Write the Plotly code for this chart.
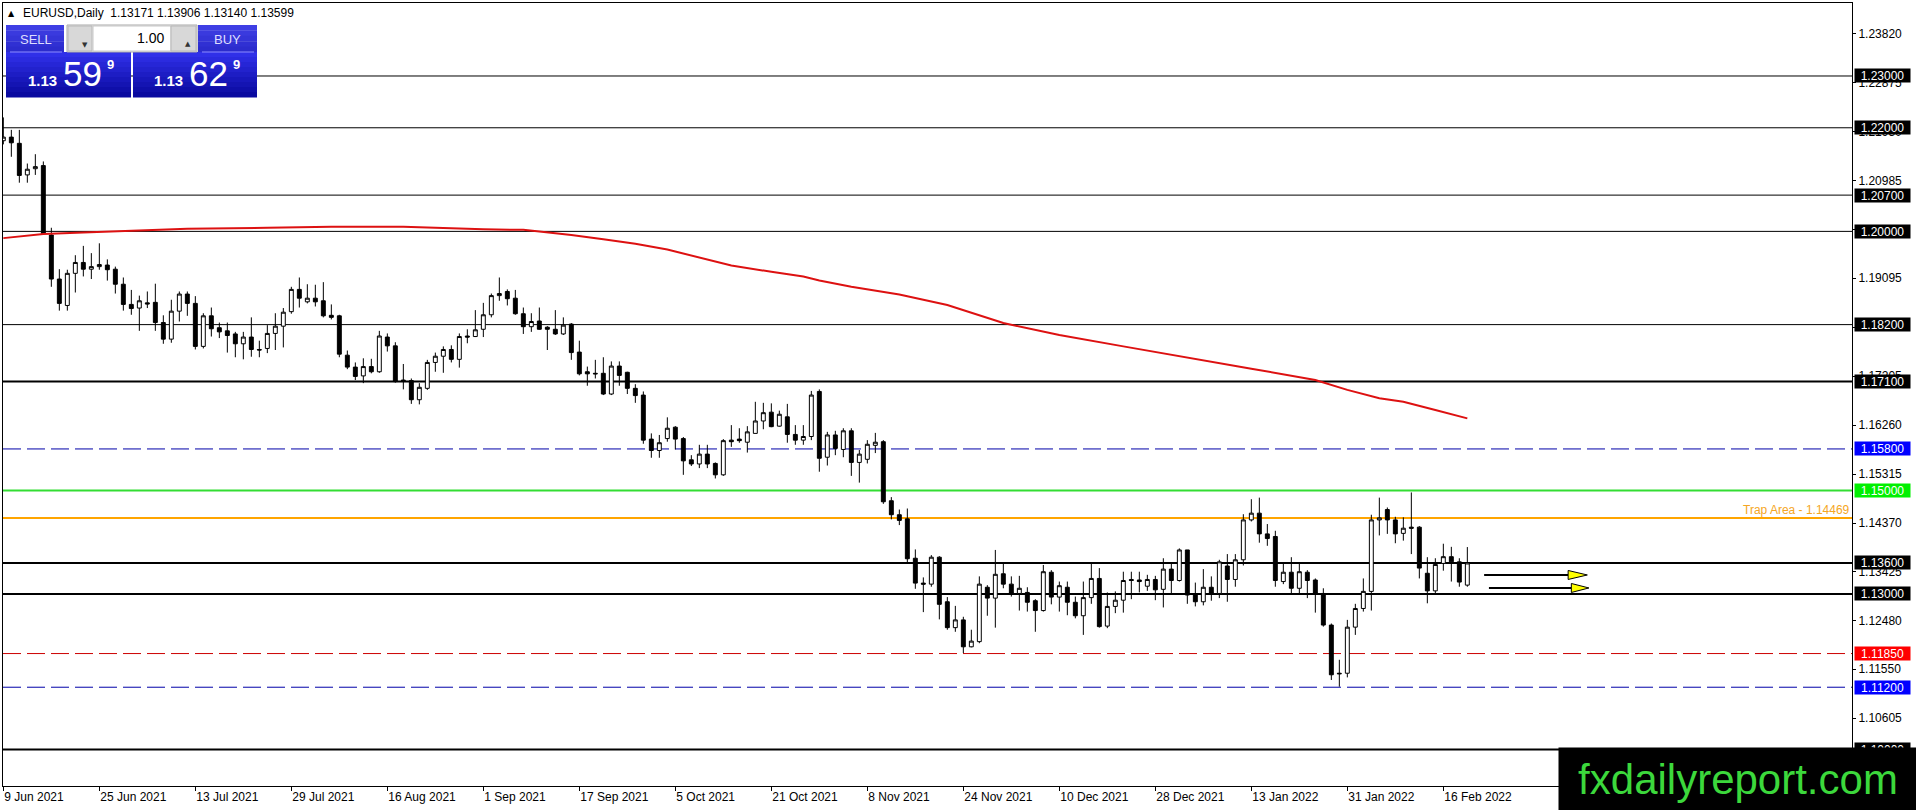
import plotly.graph_objects as go

symbol = "EURUSD"
timeframe = "Daily"

# daily bars, first visible bar is 9 Jun 2021
opens = [1.2175, 1.2182, 1.2170, 1.2109, 1.2121, 1.2127, 1.1993, 1.1908, 1.1857, 1.1919,
         1.1940, 1.1927, 1.1932, 1.1935, 1.1927, 1.1898, 1.1859, 1.1852, 1.1862, 1.1863,
         1.1824, 1.1792, 1.1846, 1.1879, 1.1861, 1.1778, 1.1837, 1.1814, 1.1808, 1.1802,
         1.1783, 1.1796, 1.1772, 1.1774, 1.1803, 1.1817, 1.1845, 1.1888, 1.1864, 1.1871,
         1.1866, 1.1838, 1.1837, 1.1761, 1.1738, 1.1721, 1.1739, 1.1729, 1.1796, 1.1779,
         1.1713, 1.1712, 1.1675, 1.1697, 1.1747, 1.1759, 1.1772, 1.1753, 1.1798, 1.1797,
         1.1811, 1.1839, 1.1876, 1.1884, 1.1871, 1.1841, 1.1816, 1.1827, 1.1815, 1.1811,
         1.1802, 1.1821, 1.1767, 1.1729, 1.1726, 1.1726, 1.1686, 1.1740, 1.1728, 1.1697,
         1.1684, 1.1599, 1.1577, 1.1600, 1.1622, 1.1600, 1.1559, 1.1551, 1.1570, 1.1552,
         1.1530, 1.1597, 1.1599, 1.1593, 1.1610, 1.1634, 1.1651, 1.1624, 1.1642, 1.1608,
         1.1597, 1.1604, 1.1691, 1.1564, 1.1607, 1.1579, 1.1615, 1.1554, 1.1560, 1.1587,
         1.1594, 1.1480, 1.1453, 1.1445, 1.1369, 1.1321, 1.1319, 1.1371, 1.1285, 1.1235,
         1.1250, 1.1198, 1.1208, 1.1313, 1.1292, 1.1339, 1.1319, 1.1301, 1.1303, 1.1287,
         1.1268, 1.1342, 1.1294, 1.1313, 1.1284, 1.1258, 1.1293, 1.1330, 1.1238, 1.1276,
         1.1288, 1.1328, 1.1327, 1.1315, 1.1328, 1.1309, 1.1348, 1.1326, 1.1385, 1.1300,
         1.1285, 1.1313, 1.1301, 1.1354, 1.1328, 1.1366, 1.1443, 1.1456, 1.1416, 1.1411,
         1.1324, 1.1342, 1.1311, 1.1342, 1.1327, 1.1301, 1.1240, 1.1147, 1.1147, 1.1236,
         1.1272, 1.1305, 1.1443, 1.1463, 1.1443, 1.1417, 1.1429, 1.1429, 1.1340, 1.1306,
         1.1359, 1.1372, 1.1362, 1.13171]
highs = [1.2220, 1.2196, 1.2196, 1.2131, 1.2149, 1.2135, 1.2007, 1.1927, 1.1926, 1.1954,
         1.1972, 1.1958, 1.1977, 1.1946, 1.1932, 1.1911, 1.1887, 1.1876, 1.1884, 1.1899,
         1.1838, 1.1868, 1.1884, 1.1884, 1.1875, 1.1842, 1.1853, 1.1824, 1.1824, 1.1806,
         1.1806, 1.1834, 1.1789, 1.1819, 1.1842, 1.1852, 1.1893, 1.1911, 1.1898, 1.1897,
         1.1902, 1.1859, 1.1839, 1.1770, 1.1747, 1.1755, 1.1754, 1.1808, 1.1803, 1.1786,
         1.1744, 1.1716, 1.1707, 1.1752, 1.1766, 1.1778, 1.1780, 1.1803, 1.1811, 1.1848,
         1.1862, 1.1880, 1.1911, 1.1888, 1.1887, 1.1853, 1.1842, 1.1853, 1.1817, 1.1848,
         1.1834, 1.1823, 1.1789, 1.1739, 1.1752, 1.1757, 1.1749, 1.1749, 1.1729, 1.1705,
         1.1691, 1.1610, 1.1607, 1.1641, 1.1624, 1.1603, 1.1568, 1.1588, 1.1588, 1.1554,
         1.1599, 1.1626, 1.1620, 1.1624, 1.1671, 1.1669, 1.1668, 1.1654, 1.1667, 1.1626,
         1.1626, 1.1692, 1.1695, 1.1613, 1.1615, 1.1620, 1.1620, 1.1578, 1.1597, 1.1611,
         1.1597, 1.1487, 1.1463, 1.1465, 1.1386, 1.1332, 1.1375, 1.1373, 1.1294, 1.1277,
         1.1256, 1.1231, 1.1334, 1.1317, 1.1385, 1.1361, 1.1334, 1.1335, 1.1313, 1.1290,
         1.1356, 1.1346, 1.1324, 1.1324, 1.1295, 1.1324, 1.1361, 1.1350, 1.1303, 1.1305,
         1.1343, 1.1343, 1.1343, 1.1337, 1.1335, 1.1369, 1.1359, 1.1388, 1.1385, 1.1322,
         1.1348, 1.1334, 1.1366, 1.1377, 1.1377, 1.1454, 1.1483, 1.1486, 1.1435, 1.1422,
         1.1358, 1.1371, 1.1361, 1.1346, 1.1330, 1.1311, 1.1243, 1.1173, 1.1250, 1.1281,
         1.1330, 1.1453, 1.1486, 1.1467, 1.1449, 1.1448, 1.1496, 1.1431, 1.1371, 1.1369,
         1.1397, 1.1391, 1.1369, 1.13906]
lows = [1.2168, 1.2144, 1.2094, 1.2094, 1.2109, 1.1995, 1.1893, 1.1847, 1.1847, 1.1882,
        1.1913, 1.1908, 1.1926, 1.1905, 1.1880, 1.1847, 1.1839, 1.1808, 1.1852, 1.1808,
        1.1783, 1.1785, 1.1826, 1.1837, 1.1772, 1.1774, 1.1797, 1.1794, 1.1766, 1.1757,
        1.1753, 1.1758, 1.1757, 1.1765, 1.1771, 1.1776, 1.1841, 1.1853, 1.1861, 1.1855,
        1.1834, 1.1830, 1.1757, 1.1734, 1.1713, 1.1707, 1.1726, 1.1727, 1.1768, 1.1708,
        1.1695, 1.1667, 1.1666, 1.1694, 1.1729, 1.1727, 1.1747, 1.1737, 1.1784, 1.1796,
        1.1796, 1.1834, 1.1866, 1.1857, 1.1839, 1.1802, 1.1806, 1.1810, 1.1771, 1.1800,
        1.1800, 1.1752, 1.1722, 1.1702, 1.1716, 1.1684, 1.1684, 1.1702, 1.1686, 1.1669,
        1.1590, 1.1563, 1.1563, 1.1594, 1.1579, 1.1530, 1.1547, 1.1543, 1.1543, 1.1523,
        1.1528, 1.1584, 1.1592, 1.1573, 1.1610, 1.1618, 1.1622, 1.1623, 1.1592, 1.1588,
        1.1588, 1.1597, 1.1536, 1.1548, 1.1568, 1.1564, 1.1528, 1.1515, 1.1552, 1.1572,
        1.1474, 1.1444, 1.1433, 1.1358, 1.1310, 1.1265, 1.1314, 1.1251, 1.1231, 1.1227,
        1.1186, 1.1197, 1.1205, 1.1258, 1.1235, 1.1311, 1.1295, 1.1268, 1.1266, 1.1227,
        1.1266, 1.1280, 1.1266, 1.1259, 1.1253, 1.1221, 1.1281, 1.1235, 1.1234, 1.1263,
        1.1264, 1.1290, 1.1303, 1.1306, 1.1288, 1.1274, 1.1301, 1.1324, 1.1281, 1.1276,
        1.1278, 1.1287, 1.1292, 1.1285, 1.1314, 1.1355, 1.1440, 1.1399, 1.1393, 1.1314,
        1.1319, 1.1301, 1.1300, 1.1292, 1.1264, 1.1237, 1.1134, 1.1121, 1.1139, 1.1221,
        1.1266, 1.1268, 1.1413, 1.1416, 1.1398, 1.1403, 1.1377, 1.1330, 1.1282, 1.1301,
        1.1345, 1.1324, 1.1314, 1.13140]
closes = [1.2182, 1.2171, 1.2108, 1.2120, 1.2125, 1.1996, 1.1908, 1.1861, 1.1919, 1.1940,
          1.1927, 1.1932, 1.1936, 1.1926, 1.1898, 1.1859, 1.1851, 1.1866, 1.1860, 1.1824,
          1.1792, 1.1846, 1.1879, 1.1861, 1.1778, 1.1837, 1.1812, 1.1806, 1.1799, 1.1783,
          1.1796, 1.1772, 1.1771, 1.1803, 1.1817, 1.1844, 1.1888, 1.1871, 1.1871, 1.1864,
          1.1837, 1.1834, 1.1763, 1.1738, 1.1720, 1.1739, 1.1729, 1.1798, 1.1779, 1.1710,
          1.1712, 1.1675, 1.1699, 1.1747, 1.1759, 1.1772, 1.1753, 1.1797, 1.1796, 1.1810,
          1.1839, 1.1876, 1.1880, 1.1870, 1.1841, 1.1816, 1.1826, 1.1811, 1.1811, 1.1802,
          1.1819, 1.1766, 1.1725, 1.1725, 1.1725, 1.1686, 1.1740, 1.1722, 1.1697, 1.1683,
          1.1597, 1.1577, 1.1592, 1.1620, 1.1599, 1.1557, 1.1551, 1.1570, 1.1551, 1.1530,
          1.1596, 1.1594, 1.1596, 1.1613, 1.1634, 1.1650, 1.1623, 1.1647, 1.1608, 1.1597,
          1.1604, 1.1684, 1.1562, 1.1607, 1.1581, 1.1615, 1.1554, 1.1570, 1.1589, 1.1593,
          1.1478, 1.1453, 1.1442, 1.1368, 1.1321, 1.1319, 1.1371, 1.1280, 1.1235, 1.1250,
          1.1198, 1.1209, 1.1319, 1.1292, 1.1338, 1.1319, 1.1301, 1.1311, 1.1284, 1.1268,
          1.1343, 1.1294, 1.1316, 1.1284, 1.1258, 1.1293, 1.1330, 1.1237, 1.1276, 1.1288,
          1.1326, 1.1326, 1.1324, 1.1328, 1.1308, 1.1348, 1.1326, 1.1385, 1.1298, 1.1285,
          1.1313, 1.1301, 1.1362, 1.1328, 1.1366, 1.1443, 1.1456, 1.1416, 1.1407, 1.1326,
          1.1342, 1.1311, 1.1343, 1.1326, 1.1301, 1.1240, 1.1144, 1.1146, 1.1236, 1.1272,
          1.1305, 1.1443, 1.1447, 1.1443, 1.1416, 1.1427, 1.1427, 1.1350, 1.1306, 1.1357,
          1.1372, 1.1362, 1.1323, 1.13599]

# date labels, one every 12 bars starting at bar 0
tick_labels = ["9 Jun 2021", "25 Jun 2021", "13 Jul 2021", "29 Jul 2021", "16 Aug 2021",
               "1 Sep 2021", "17 Sep 2021", "5 Oct 2021", "21 Oct 2021", "8 Nov 2021",
               "24 Nov 2021", "10 Dec 2021", "28 Dec 2021", "13 Jan 2022", "31 Jan 2022",
               "16 Feb 2022"]
tick_step = 12

# red moving average, sampled at these bars
ma_idx = [0, 5, 10, 16, 23, 33, 41, 50, 55, 60, 65, 67, 71, 75, 79, 83, 87, 91, 96, 100,
          102, 106, 112, 118, 125, 132, 140, 148, 156, 164, 168, 172, 175, 179, 183]
ma_vals = [1.1987, 1.1995, 1.1998, 1.2001, 1.2005, 1.2007, 1.2009, 1.2009, 1.2006, 1.2004,
           1.2003, 1.2000, 1.1993, 1.1985, 1.1976, 1.1965, 1.1950, 1.1934, 1.1922, 1.1913,
           1.1905, 1.1893, 1.1878, 1.1858, 1.1823, 1.1800, 1.1778, 1.1757, 1.1735, 1.1713,
           1.1694, 1.1678, 1.1671, 1.1655, 1.1639]

price_ticks = [1.23820, 1.22875, 1.21930, 1.20985, 1.20040, 1.19095, 1.18150, 1.17205,
               1.16260, 1.15315, 1.14370, 1.13425, 1.12480, 1.11550, 1.10605, 1.09660]

levels = [1.23, 1.22, 1.207, 1.20, 1.182, 1.171, 1.158, 1.15, 1.136, 1.13, 1.1185, 1.112, 1.10]
trap_level = 1.14469
arrow_levels = [1.13367, 1.13116]

bid = 1.13599
ask = 1.13629
lot = 1.00

# ---- styling ----
FONT = "Liberation Sans, Arial, sans-serif"
W, H = 1916, 810
L, R, T, B = 3, 1852, 3, 786
BAR_PX = 8
X0 = 3.33  # pixel centre of bar 0
Y_TOP, Y_BOT = 1.24409, 1.09293

level_style = {
    1.23: ("black", 1, "solid", "black"),
    1.22: ("black", 1, "solid", "black"),
    1.207: ("black", 1, "solid", "black"),
    1.20: ("black", 1, "solid", "black"),
    1.182: ("black", 1, "solid", "black"),
    1.171: ("black", 2, "solid", "black"),
    1.158: ("#0000a8", 1, "18px,6px", "#0000ff"),
    1.15: ("#33dd33", 2, "solid", "#00f000"),
    1.136: ("black", 2, "solid", "black"),
    1.13: ("black", 2, "solid", "black"),
    1.1185: ("#cc0000", 1, "18px,6px", "#ff0000"),
    1.112: ("#0000a8", 1, "18px,6px", "#0000ff"),
    1.10: ("black", 2, "solid", "black"),
}


def px(x):
    return (x - L) / (R - L)


def py(y):
    return (B - y) / (B - T)


bars = list(range(len(opens)))

fig = go.Figure()

fig.add_trace(go.Candlestick(
    x=bars, open=opens, high=highs, low=lows, close=closes,
    increasing=dict(line=dict(color="black", width=1), fillcolor="white"),
    decreasing=dict(line=dict(color="black", width=1), fillcolor="black"),
    hoverinfo="skip", showlegend=False))

fig.add_trace(go.Scatter(x=ma_idx, y=ma_vals, mode="lines",
                         line=dict(color="#dd1111", width=2),
                         hoverinfo="skip", showlegend=False))

# horizontal levels
for lvl in levels:
    color, width, dash, _ = level_style[lvl]
    fig.add_shape(type="line", xref="paper", yref="y", x0=0, x1=1, y0=lvl, y1=lvl,
                  line=dict(color=color, width=width, dash=dash), layer="below")
fig.add_shape(type="line", xref="paper", yref="y", x0=0, x1=1, y0=trap_level, y1=trap_level,
              line=dict(color="#ffa500", width=2), layer="below")
fig.add_annotation(text=f"Trap Area - {trap_level:.5f}", xref="paper", yref="y",
                   x=px(1851), y=trap_level, xanchor="right", yanchor="bottom",
                   showarrow=False, borderpad=0, font=dict(family=FONT, size=12, color="#f5a623"))

# arrows to the right of the last bar
last = len(opens) - 1
for i, lvl in enumerate(arrow_levels):
    start = last + 2.1 + 0.6 * i
    base = last + 12.6 + 0.4 * i
    tip = last + 15.0 + 0.2 * i
    half = 4.5 / 5180
    fig.add_shape(type="line", xref="x", yref="y", x0=start, x1=base, y0=lvl, y1=lvl,
                  line=dict(color="black", width=2))
    fig.add_shape(type="path", xref="x", yref="y",
                  path=f"M {base},{lvl + half} L {tip},{lvl} L {base},{lvl - half} Z",
                  fillcolor="#ffff00", line=dict(color="black", width=1))

# price boxes on the right axis
for lvl in levels:
    box = level_style[lvl][3]
    fig.add_annotation(text=f"{lvl:.5f}", xref="paper", yref="y", x=px(1854), y=lvl,
                       xanchor="left", yanchor="middle", showarrow=False,
                       bgcolor=box, width=55, height=13, borderpad=0,
                       font=dict(family=FONT, size=12, color="white"))

# header line
fig.add_annotation(text="\u25b2", xref="paper", yref="paper", x=px(11), y=py(13),
                   xanchor="center", yanchor="middle", showarrow=False,
                   font=dict(family="DejaVu Sans", size=8, color="black"))
head = f"{symbol},{timeframe}\u00a0\u00a0{opens[-1]:.5f} {highs[-1]:.5f} {lows[-1]:.5f} {closes[-1]:.5f}"
fig.add_annotation(text=head, xref="paper", yref="paper", x=px(21), y=py(13),
                   xanchor="left", yanchor="middle", showarrow=False,
                   font=dict(family=FONT, size=12, color="black"))


# one-click trading panel
def rect(x0, y0, x1, y1, fill, line_color=None, lw=0):
    fig.add_shape(type="rect", xref="paper", yref="paper",
                  x0=px(x0), x1=px(x1), y0=py(y1), y1=py(y0), fillcolor=fill,
                  line=dict(color=line_color or fill, width=lw), layer="above")


def gradient(x0, y0, x1, y1, c_top, c_bot, steps=9):
    h = (y1 - y0) / steps
    for s in range(steps):
        f = s / (steps - 1)
        c = tuple(round(a + (b - a) * f) for a, b in zip(c_top, c_bot))
        rect(x0, y0 + s * h, x1, y0 + (s + 1) * h + 0.4, f"rgb{c}")


gradient(6, 25, 64, 52, (62, 62, 228), (44, 44, 205), 5)
gradient(198, 25, 257, 52, (62, 62, 228), (44, 44, 205), 5)
gradient(6, 52, 131, 97, (48, 48, 232), (10, 10, 160))
gradient(133, 52, 257, 97, (48, 48, 232), (10, 10, 160))
rect(10, 51.5, 62, 52.5, "#8c8cff")
rect(202, 51.5, 254, 52.5, "#8c8cff")
rect(67, 25, 197, 52, "#f4f4f4", "#a8a8a8", 1)
rect(68, 26, 92, 51, "#d8d8d8", "#b8b8b8", 1)
rect(93, 26, 171, 51, "white", "#c8c8c8", 1)
rect(171, 26, 196, 51, "#d8d8d8", "#b8b8b8", 1)

for txt, x in (("SELL", 36), ("BUY", 227)):
    fig.add_annotation(text=txt, xref="paper", yref="paper", x=px(x), y=py(39),
                       xanchor="center", yanchor="middle", showarrow=False,
                       font=dict(family=FONT, size=13, color="#dedeff"))
fig.add_annotation(text="\u25bc", xref="paper", yref="paper", x=px(80), y=py(39),
                   showarrow=False, font=dict(family="DejaVu Sans", size=7, color="#333333"))
fig.add_annotation(text="\u25b2", xref="paper", yref="paper", x=px(183), y=py(38),
                   showarrow=False, font=dict(family="DejaVu Sans", size=7, color="#333333"))
fig.add_annotation(text=f"{lot:.2f}", xref="paper", yref="paper", x=px(166), y=py(38),
                   xanchor="right", yanchor="middle", showarrow=False,
                   font=dict(family=FONT, size=14, color="black"))

for price, x_small, x_big, x_sup in ((bid, 26, 61, 105), (ask, 152, 187, 231)):
    s = f"{price:.5f}"
    fig.add_annotation(text=f"<b>{s[:4]}</b>", xref="paper", yref="paper", x=px(x_small), y=py(80),
                       xanchor="left", yanchor="middle", showarrow=False,
                       font=dict(family=FONT, size=15, color="white"))
    fig.add_annotation(text=s[4:6], xref="paper", yref="paper", x=px(x_big), y=py(73),
                       xanchor="left", yanchor="middle", showarrow=False,
                       font=dict(family=FONT, size=35, color="white"))
    fig.add_annotation(text=f"<b>{s[6]}</b>", xref="paper", yref="paper", x=px(x_sup), y=py(64),
                       xanchor="left", yanchor="middle", showarrow=False,
                       font=dict(family=FONT, size=13, color="white"))

# watermark
fig.add_annotation(text="fxdailyreport.com", xref="paper", yref="paper",
                   x=px(1558), y=py(747), xanchor="left", yanchor="top",
                   width=358, height=63, borderpad=0, bgcolor="black", showarrow=False,
                   font=dict(family=FONT, size=42, color="#3cd83c"))

fig.update_layout(
    width=W, height=H, autosize=False,
    margin=dict(l=L, r=W - R, t=T, b=H - B, pad=0),
    paper_bgcolor="white", plot_bgcolor="white",
    font=dict(family=FONT, size=12, color="black"),
    showlegend=False,
    xaxis=dict(range=[(L - X0) / BAR_PX, (R - X0) / BAR_PX],
               tickvals=[i * tick_step for i in range(len(tick_labels))],
               ticktext=tick_labels, ticks="outside", ticklen=4, tickcolor="black",
               ticklabelposition="outside right",
               showline=True, linecolor="black", linewidth=1, mirror=True,
               showgrid=False, zeroline=False, rangeslider=dict(visible=False),
               tickfont=dict(family=FONT, size=12, color="black")),
    yaxis=dict(range=[Y_BOT, Y_TOP], side="right",
               tickvals=price_ticks, ticktext=[f"{v:.5f}" for v in price_ticks],
               ticks="outside", ticklen=3, tickcolor="black",
               showline=True, linecolor="black", linewidth=1, mirror=True,
               showgrid=False, zeroline=False,
               tickfont=dict(family=FONT, size=12, color="black")),
)

fig.write_html("out.html", config=dict(displayModeBar=False),
               post_script="document.body.style.margin='0';document.body.style.overflow='hidden';")
